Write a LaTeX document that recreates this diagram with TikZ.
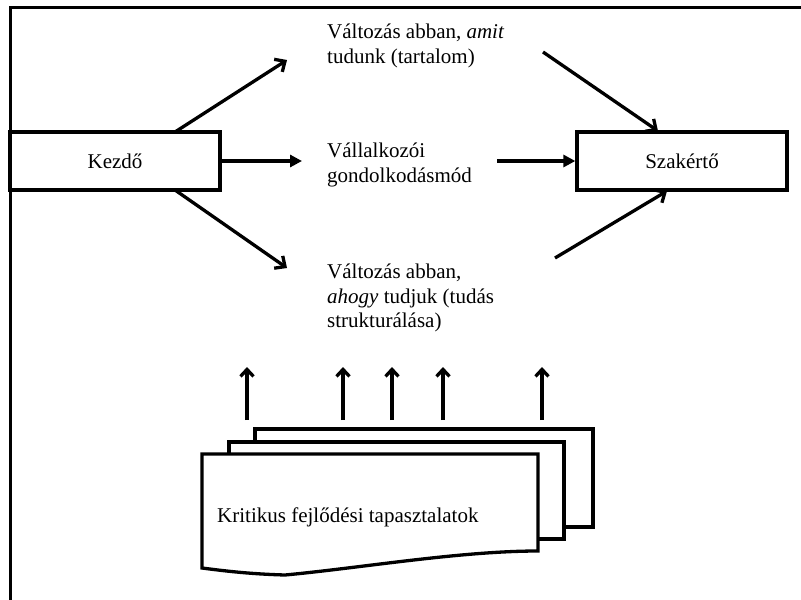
\documentclass[tikz,border=0pt]{standalone}
\usepackage{fontspec}
\setmainfont{Liberation Serif}
\usetikzlibrary{arrows.meta}
\begin{document}
\begin{tikzpicture}[x=1pt,y=-1pt,
  box/.style={draw,line width=3.3pt,minimum width=210pt,minimum height=58pt,inner sep=0pt,font=\fontsize{21}{25}\selectfont},
  lbl/.style={align=left,anchor=north west,inner sep=0pt,font=\fontsize{21}{24.5}\selectfont},
  barb/.style={line width=3.3pt,-{Straight Barb[length=8pt,width=15pt,line width=3.3pt]}},
  solidarrow/.style={line width=3.3pt,-{Stealth[length=12pt,width=12pt,inset=0pt]}},
  uparrow/.style={line width=3.3pt,-{Straight Barb[length=7pt,width=13pt,line width=3.3pt]}},
  sheet/.style={draw,fill=white,line width=3.3pt,line join=miter}]
\useasboundingbox (0,0) rectangle (801,600);
% frame
\draw[line width=3.3pt] (10.5,600) -- (10.5,7.5) -- (801,7.5);
% boxes
\node[box] (kezdo) at (115,161) {Kezdő};
\node[box] (szakerto) at (682,161) {Szakértő};
% labels
\node[lbl] (t1) at (327,24) {Változás abban, \textit{amit}\\tudunk (tartalom)};
\node[lbl] (t2) at (327,143) {Vállalkozói\\gondolkodásmód};
\node[lbl] (t3) at (327,264) {Változás abban,\\\textit{ahogy} tudjuk (tudás\\strukturálása)};
% coordinates
\coordinate (a1s) at (175,132);
\coordinate (a1e) at (287,60);
\coordinate (a2e) at (302,161);
\coordinate (a3s) at (175,190);
\coordinate (a3e) at (287,268);
\coordinate (b1s) at (543,52);
\coordinate (b1e) at (658,131);
\coordinate (b2s) at (497,161);
\coordinate (b3s) at (555,258);
\coordinate (b3e) at (667,191);
% arrows
\draw[barb] (a1s) -- (a1e);
\draw[solidarrow] (kezdo.east) -- (a2e);
\draw[barb] (a3s) -- (a3e);
\draw[barb] (b1s) -- (b1e);
\draw[solidarrow] (b2s) -- (szakerto.west);
\draw[barb] (b3s) -- (b3e);
% document stack
\draw[sheet] (255,429) rectangle (593,527);
\draw[sheet] (229,442) rectangle (564,539);
\draw[sheet] (202,454) -- (538,454) -- (538,551)
  .. controls (460,551) and (360,568) .. (285,575)
  .. controls (250,574) and (225,571) .. (202,568) -- cycle;
\node[anchor=base west,inner sep=0pt,font=\fontsize{21}{25}\selectfont] (doc) at (217,522) {Kritikus fejlődési tapasztalatok};
% up arrows
\foreach \x [count=\i] in {247,343,392,443,542} {
  \coordinate (u\i s) at (\x,420);
  \coordinate (u\i e) at (\x,367);
  \draw[uparrow] (u\i s) -- (u\i e);
}
\end{tikzpicture}
\end{document}
